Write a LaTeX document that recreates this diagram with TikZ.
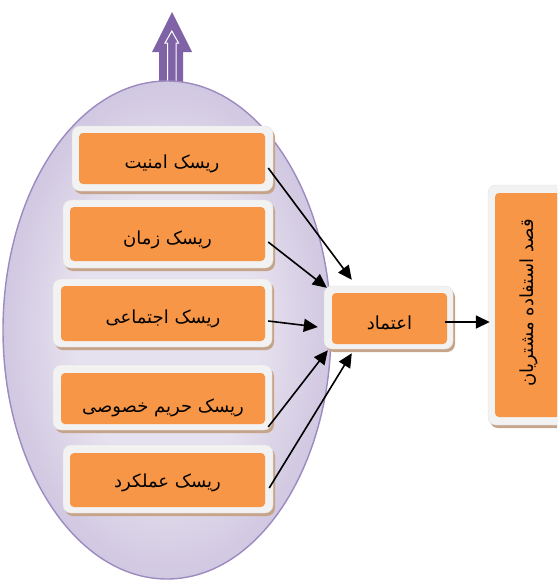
\documentclass[tikz,border=0pt]{standalone}
\usepackage{fontspec}
\newfontfamily\arabicfont[Script=Arabic]{DejaVu Sans}
\TeXXeTstate=1
\usetikzlibrary{shadows,arrows.meta,calc}
\definecolor{orng}{HTML}{F79646}
\definecolor{framec}{HTML}{F2F2F2}
\definecolor{framedraw}{HTML}{E2E2E2}
\definecolor{shadc}{HTML}{C6A48A}
\definecolor{ellin}{HTML}{E6E1EE}
\definecolor{ellout}{HTML}{BDB0D5}
\definecolor{ellborder}{HTML}{9C8AC0}
\definecolor{arrowp}{HTML}{7F63A6}
\pgfdeclareradialshading{ellshade}{\pgfpoint{0bp}{0bp}}{color(0bp)=(ellin); color(14bp)=(ellin); color(35bp)=(ellout); color(50bp)=(ellout)}
\begin{document}
\begin{tikzpicture}[x=1pt,y=-1pt,
  frame/.style={draw=framedraw, fill=framec, rounded corners=8pt, inner sep=0pt, line width=0.4pt,
    drop shadow={shadow xshift=2pt, shadow yshift=-3pt, fill=shadc, opacity=1}},
  obox/.style={fill=orng, rounded corners=4pt, inner sep=0pt, text=black,
    font=\arabicfont\fontsize{18}{21}\selectfont},
  arr/.style={-{Triangle[length=14pt,width=13pt]}, line width=1.6pt, black}]
\useasboundingbox (0,0) rectangle (557,581);
\clip (0,0) rectangle (557,581);
% upward arrow
\path[fill=arrowp] (159,95)--(159,52)--(152,52)--(172,12)--(192,52)--(183,52)--(183,95)--cycle;
\path[fill=arrowp, draw=white, line width=1pt] (167.5,95)--(167.5,43)--(165,43)--(171.8,31)--(178.5,43)--(176,43)--(176,95);
% ellipse
\shadedraw[shading=ellshade, draw=ellborder, line width=1.4pt] (167,330) ellipse [x radius=164pt, y radius=249pt];
% risk boxes
\node[frame, minimum width=201pt, minimum height=65pt] (f1) at (172.5,158.5) {};
\node[obox, minimum width=186pt, minimum height=51pt] (b1) at (172,158.5) {\raisebox{-5pt}[\height][\depth]{\beginR ریسک امنیت\endR}};
\node[frame, minimum width=210pt, minimum height=68pt] (f2) at (168,234) {};
\node[obox, minimum width=195pt, minimum height=54pt] (b2) at (167.5,234) {\raisebox{-6pt}[\height][\depth]{\beginR ریسک زمان\endR}};
\node[frame, minimum width=219pt, minimum height=68pt] (f3) at (162.5,313) {};
\node[obox, minimum width=204pt, minimum height=55pt] (b3) at (163,313.5) {\raisebox{-5pt}[\height][\depth]{\beginR ریسک اجتماعی\endR}};
\node[frame, minimum width=219pt, minimum height=65pt] (f4) at (162.5,397.5) {};
\node[obox, minimum width=204pt, minimum height=51pt] (b4) at (163,398.5) {\raisebox{-9pt}[\height][\depth]{\beginR ریسک حریم خصوصی\endR}};
\node[frame, minimum width=210pt, minimum height=68pt] (f5) at (168,479) {};
\node[obox, minimum width=195pt, minimum height=54pt] (b5) at (167.5,480) {\raisebox{-3pt}[\height][\depth]{\beginR ریسک عملکرد\endR}};
% trust
\node[frame, minimum width=129pt, minimum height=63pt] (ft) at (388.5,317.5) {};
\node[obox, minimum width=115pt, minimum height=51pt] (t) at (389.5,318.5) {\raisebox{-4pt}[\height][\depth]{\beginR اعتماد\endR}};
% intention
\node[frame, minimum width=78pt, minimum height=240pt] (fi) at (527,305) {};
\node[obox, minimum width=65pt, minimum height=224pt] (bi) at (527.5,305) {};
\node[rotate=90, inner sep=0pt, font=\arabicfont\fontsize{18}{21}\selectfont] (il) at (529,303) {\beginR قصد استفاده مشتریان\endR};
% connectors
\draw[arr] ($(f1.east)+(-5,9.5)$) -- ($(t.north west)+(20,-13)$);
\draw[arr] ($(f2.east)+(-5,8)$) -- ($(t.north west)+(-5,-5)$);
\draw[arr] ($(f3.east)+(-4,8)$) -- ($(t.west)+(-14,8.5)$);
\draw[arr] ($(f4.east)+(-4,29.5)$) -- ($(t.south west)+(-4,6)$);
\draw[arr] ($(f5.east)+(-4,9)$) -- ($(t.south west)+(20,9)$);
\coordinate (s6) at ($(t.east)+(-2,3.5)$);
\draw[arr] (s6) -- ($(s6 -| fi.west)+(2,0)$);
\end{tikzpicture}
\end{document}
